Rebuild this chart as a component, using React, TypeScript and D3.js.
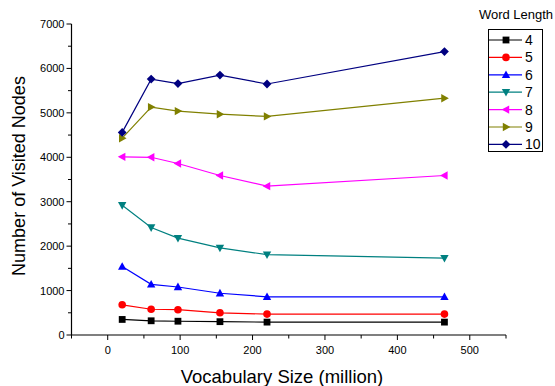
import * as d3 from 'd3';
import React, { useEffect, useRef } from 'react';

const vocabSizes = [20, 60, 97, 155, 220, 465];
const wordLengths = ['4', '5', '6', '7', '8', '9', '10'];
const nodes4 = [350, 320, 310, 300, 290, 290];
const nodes5 = [680, 580, 570, 500, 470, 470];
const nodes6 = [1540, 1140, 1080, 940, 860, 860];
const nodes7 = [2920, 2420, 2180, 1960, 1810, 1730];
const nodes8 = [4010, 4000, 3860, 3590, 3350, 3590];
const nodes9 = [4430, 5130, 5040, 4970, 4920, 5330];
const nodes10 = [4560, 5760, 5660, 5850, 5650, 6380];
const xTicks = [0, 100, 200, 300, 400, 500];
const yTicks = [0, 1000, 2000, 3000, 4000, 5000, 6000, 7000];

const seriesValues = [nodes4, nodes5, nodes6, nodes7, nodes8, nodes9, nodes10];
const colors = ['#000000', '#ff0000', '#0000ff', '#008080', '#ff00ff', '#808000', '#000080'];
const shapes = ['square', 'circle', 'up', 'down', 'left', 'right', 'diamond'];

const W = 555;
const H = 386;
const FONT = '"Liberation Sans", Arial, sans-serif';

const markerPath = (shape: string) => {
  switch (shape) {
    case 'square':
      return 'M-3.4,-3.4H3.4V3.4H-3.4Z';
    case 'circle':
      return d3.symbol(d3.symbolCircle, Math.PI * 3.8 * 3.8)()!;
    case 'up':
      return 'M0,-4.4L4.2,3.2L-4.2,3.2Z';
    case 'down':
      return 'M0,4.4L4.2,-3.2L-4.2,-3.2Z';
    case 'left':
      return 'M-4.4,0L3.2,-4.2L3.2,4.2Z';
    case 'right':
      return 'M4.4,0L-3.2,-4.2L-3.2,4.2Z';
    default:
      return 'M0,-4.4L4.4,0L0,4.4L-4.4,0Z';
  }
};

export default function App() {
  const svgRef = useRef<SVGSVGElement>(null);

  useEffect(() => {
    const svg = d3.select(svgRef.current).html('');

    const x = d3.scaleLinear().domain([-50, 550]).range([71.5, 506]);
    const y = d3.scaleLinear().domain([0, 7000]).range([335, 24]);

    // x axis
    const xAxis = svg.append('g').attr('transform', 'translate(0,335)');
    xAxis.append('line')
      .attr('x1', x(-50)).attr('x2', x(550))
      .attr('stroke', '#000').attr('stroke-width', 1.2);
    xAxis.selectAll('.tick')
      .data(d3.range(-50, 551, 50))
      .enter().append('line')
      .attr('x1', d => x(d)).attr('x2', d => x(d))
      .attr('y1', 0).attr('y2', d => (d % 100 === 0 ? 5 : 3.5))
      .attr('stroke', '#000');
    xAxis.selectAll('.lbl')
      .data(xTicks)
      .enter().append('text')
      .attr('x', d => x(d)).attr('y', 19)
      .attr('text-anchor', 'middle')
      .attr('font-family', FONT).attr('font-size', 11)
      .text(d => d);

    // y axis
    const yAxis = svg.append('g').attr('transform', `translate(${x(-50)},0)`);
    yAxis.append('line')
      .attr('y1', y(0)).attr('y2', y(7000))
      .attr('stroke', '#000').attr('stroke-width', 1.2);
    yAxis.selectAll('.tick')
      .data(d3.range(0, 7001, 500))
      .enter().append('line')
      .attr('y1', d => y(d)).attr('y2', d => y(d))
      .attr('x1', 0).attr('x2', d => (d % 1000 === 0 ? -5 : -3.5))
      .attr('stroke', '#000');
    yAxis.selectAll('.lbl')
      .data(yTicks)
      .enter().append('text')
      .attr('x', -7).attr('y', d => y(d) + 4)
      .attr('text-anchor', 'end')
      .attr('font-family', FONT).attr('font-size', 11)
      .text(d => d);

    // titles
    svg.append('text')
      .attr('x', 282).attr('y', 383)
      .attr('text-anchor', 'middle')
      .attr('font-family', FONT).attr('font-size', 18.5)
      .text('Vocabulary Size (million)');
    svg.append('text')
      .attr('transform', 'translate(25,176) rotate(-90)')
      .attr('text-anchor', 'middle')
      .attr('font-family', FONT).attr('font-size', 18)
      .text('Number of Visited Nodes');

    // series
    const line = d3.line<number>()
      .x((_, i) => x(vocabSizes[i]))
      .y(d => y(d));

    seriesValues.forEach((vals, si) => {
      const g = svg.append('g');
      g.append('path')
        .attr('d', line(vals)!)
        .attr('fill', 'none')
        .attr('stroke', colors[si])
        .attr('stroke-width', 1.2);
      g.selectAll('path.m')
        .data(vals)
        .enter().append('path')
        .attr('class', 'm')
        .attr('transform', (d, i) => `translate(${x(vocabSizes[i])},${y(d)})`)
        .attr('d', markerPath(shapes[si]))
        .attr('fill', colors[si]);
    });

    // legend
    const lg = svg.append('g');
    lg.append('text')
      .attr('x', 516).attr('y', 19)
      .attr('text-anchor', 'middle')
      .attr('font-family', FONT).attr('font-size', 13)
      .text('Word Length');
    lg.append('rect')
      .attr('x', 488.5).attr('y', 29.5)
      .attr('width', 54).attr('height', 122)
      .attr('fill', '#fff').attr('stroke', '#000');
    wordLengths.forEach((w, i) => {
      const cy = 40 + i * 17.4;
      lg.append('line')
        .attr('x1', 489).attr('x2', 522)
        .attr('y1', cy).attr('y2', cy)
        .attr('stroke', colors[i]).attr('stroke-width', 1.2);
      lg.append('path')
        .attr('transform', `translate(506,${cy})`)
        .attr('d', markerPath(shapes[i]))
        .attr('fill', colors[i]);
      lg.append('text')
        .attr('x', 525).attr('y', cy + 5)
        .attr('font-family', FONT).attr('font-size', 14)
        .text(w);
    });
  }, []);

  return (
    <div style={{ position: 'absolute', left: 0, top: 0 }}>
      <svg ref={svgRef} width={W} height={H} style={{ display: 'block', background: '#fff' }} />
    </div>
  );
}
